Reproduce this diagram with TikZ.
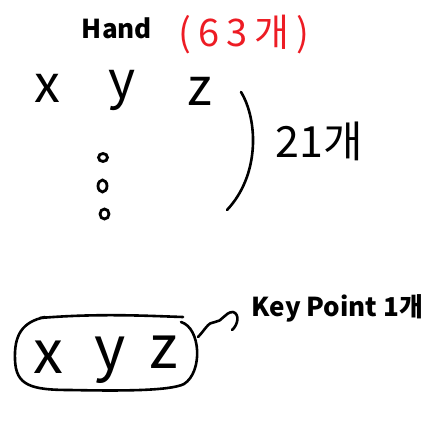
\documentclass[tikz,border=0pt]{standalone}
\usepackage{fontspec}
\usetikzlibrary{shapes.geometric}
\newfontfamily\kr{Noto Sans CJK KR}
\definecolor{paintred}{RGB}{237,28,36}
\tikzset{
  pen/.style={line width=2.6pt, line cap=round, line join=round, black},
  txt/.style={inner sep=0pt, anchor=center},
  bold/.style={txt, font=\kr\bfseries\fontsize{#1}{#1}\selectfont},
  hand/.style={txt, font=\kr\fontsize{#1}{#1}\selectfont},
  dot/.style={draw, line width=2.8pt, ellipse, inner sep=0pt, minimum width=9pt, minimum height=8pt}
}
\begin{document}
\begin{tikzpicture}[x=1pt, y=-1pt]
\useasboundingbox (0,0) rectangle (442,425);
% titles
\node[bold=26] (hand) at (117,28.5) {Hand};
\node[hand=38, text=paintred] (cnt) at (244,35) {\addfontfeatures{LetterSpace=18}(63개)};
% top row
\node[hand=52] (x1) at (47.5,88) {x};
\node[hand=52] (y1) at (122.5,90) {y};
\node[hand=52] (z1) at (199.5,91) {z};
% vertical dots
\node[dot] (d1) at (103,157.5) {};
\node[dot, minimum height=12pt] (d2) at (102.5,186) {};
\node[dot, minimum height=10pt] (d3) at (104.5,214) {};
% bracket
\coordinate (bt) at (241,92);
\coordinate (bb) at (227,210);
\draw[pen] (bt) .. controls (258,120) and (260,175) .. (bb);
\node[hand=43] (n21) at (319,141) {21개};
% bottom group
\node[hand=60] (x2) at (48.5,357) {x};
\node[hand=60] (y2) at (110,360) {y};
\node[hand=60] (z2) at (163.5,352) {z};
\draw[pen] (40,318) .. controls (100,313) and (150,316) .. (183,317);
\draw[pen] (181,322) .. controls (201,328) and (203,372) .. (184,384)
  .. controls (170,391) and (120,391) .. (70,390)
  .. controls (30,390) and (16,385) .. (15,360)
  .. controls (14,335) and (22,322) .. (45,317);
\coordinate (loopE) at (198,337);
\coordinate (hook) at (232,330);
\draw[pen] (loopE) .. controls (205,330) and (208,322) .. (215,322)
  .. controls (222,322) and (225,312) .. (233,312)
  .. controls (240,314) and (238,325) .. (hook);
\node[bold=26] (kp) at (337.5,308) {Key Point 1개};
\end{tikzpicture}
\end{document}
